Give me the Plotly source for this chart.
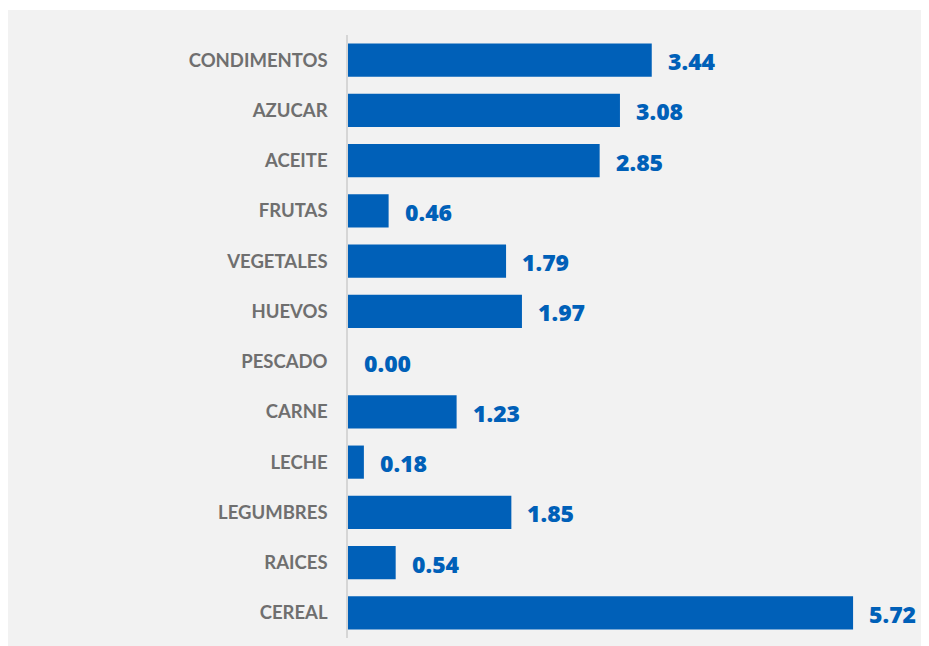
import plotly.graph_objects as go

categories = ["CONDIMENTOS", "AZUCAR", "ACEITE", "FRUTAS", "VEGETALES", "HUEVOS",
              "PESCADO", "CARNE", "LECHE", "LEGUMBRES", "RAICES", "CEREAL"]
values = [3.44, 3.08, 2.85, 0.46, 1.79, 1.97, 0.00, 1.23, 0.18, 1.85, 0.54, 5.72]

W, H = 921, 638
L, R, T, B = 340, 1, 27, 8
BAR = "#0060B8"
BG = "#F2F2F2"

fig = go.Figure(go.Bar(
    x=values, y=categories, orientation="h",
    marker=dict(color=BAR, line=dict(width=0)),
    hoverinfo="skip",
))

for c, v in zip(categories, values):
    fig.add_annotation(x=v, y=c, text=f"{v:.2f}", showarrow=False,
                       xanchor="left", xshift=14, yshift=-1,
                       font=dict(family="Open Sans", size=23, color=BAR, weight=800))

pw = W - L - R
ph = H - T - B
def px_x(p):
    return (p - L) / pw
def px_y(p):
    return (H - B - p) / ph

# thin white strip at top of the grey panel
fig.add_shape(type="rect", xref="paper", yref="paper", layer="below",
              x0=px_x(0), x1=px_x(W), y0=px_y(2), y1=px_y(0),
              fillcolor="white", line=dict(width=0))

fig.update_layout(
    width=W, height=H,
    margin=dict(l=L, r=R, t=T, b=B, pad=0),
    paper_bgcolor=BG, plot_bgcolor=BG,
    bargap=0.34,
    showlegend=False,
    xaxis=dict(range=[0, pw / 88.3], visible=False, fixedrange=True),
    yaxis=dict(autorange="reversed", showline=True, linecolor="#D6D6D6", linewidth=1.5,
               ticks="", showgrid=False, ticklabelstandoff=15,
               tickfont=dict(family="Lato", size=18.5, color="#6F6F6F", weight=700)),
)

fig.write_html("out.html")
